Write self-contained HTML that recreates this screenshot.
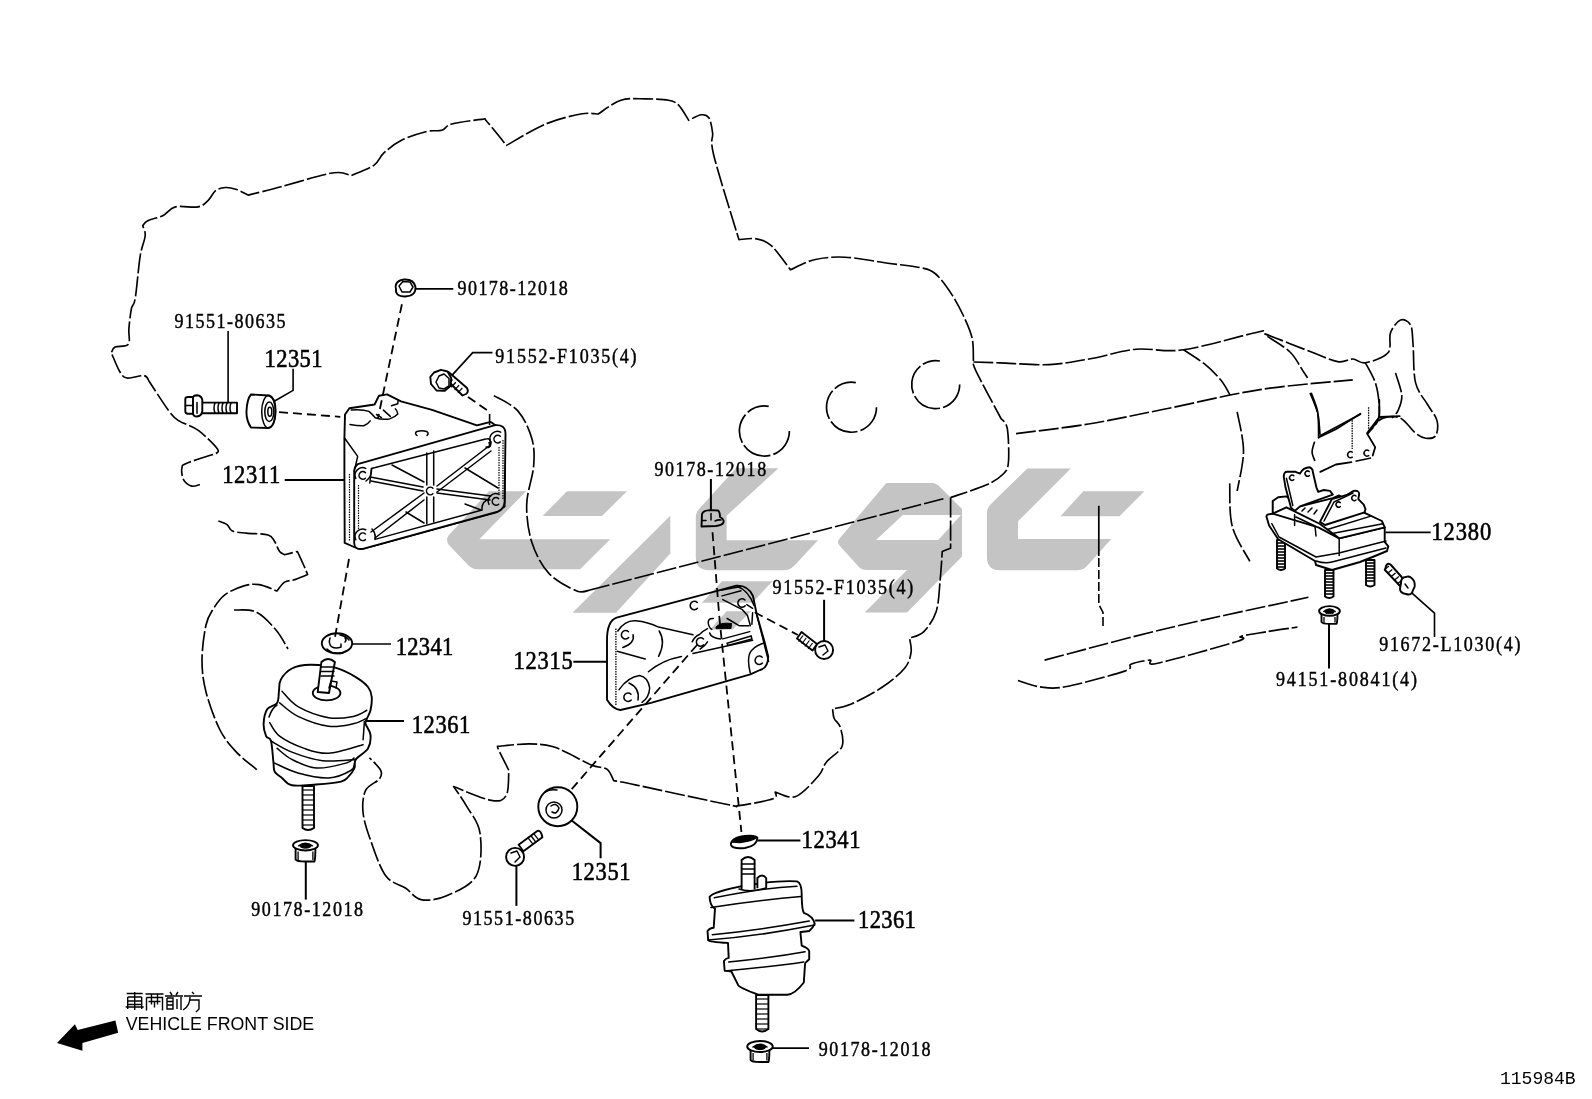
<!DOCTYPE html>
<html><head><meta charset="utf-8"><style>
html,body{margin:0;padding:0;background:#fff;width:1592px;height:1099px;overflow:hidden}
svg{display:block}
text{font-family:"Liberation Serif",serif;fill:#000}
.sans{font-family:"Liberation Sans",sans-serif}
</style></head><body>
<svg width="1592" height="1099" viewBox="0 0 1592 1099">
<rect width="1592" height="1099" fill="#fff"/>
<path d="M199.9 484.5 C198.5 484.8 194.4 486.9 191.7 486.1 C189 485.3 185.1 482.6 183.5 479.6 C181.9 476.6 181.3 470.8 181.9 468.1 C182.5 465.4 181.1 465.6 186.8 463.2 C192.5 460.8 211.4 455 216.3 453.4 L216.3 453.4 C216.4 452.6 220.1 452.2 217.1 448.4 C214.1 444.6 204.7 435 198.3 430.4 C191.9 425.8 183.5 423.9 178.6 420.6 C173.7 417.3 173.7 417.4 168.8 410.8 C163.9 404.2 152.4 386.2 149.1 381.3 L149.1 381.3 C148.3 380.4 147.9 376.2 144.2 375.6 C140.5 375.1 131.1 378.7 127 378 C122.9 377.3 122.3 375.7 119.7 371.5 C117.1 367.3 112.7 355.9 111.3 352.8 L111.3 352.8 C111.9 351.9 112.3 348.5 115.1 347.1 C117.9 345.7 126 347.4 128.3 344.3 C130.6 341.2 128.4 334.6 128.9 328.7 C129.4 322.8 130.4 313.6 131.4 308.6 C132.4 303.6 133.7 307.4 135.2 298.6 C136.7 289.8 138.5 266.4 140.2 255.9 C141.9 245.4 144.8 240.8 145.2 235.8 C145.6 230.8 143.1 227.4 142.7 225.7 L142.7 225.7 C143.5 224.9 144.3 222.4 147.7 220.7 C151 219 158.2 218 162.8 215.7 C167.4 213.4 169.5 208.4 175.4 206.9 C181.3 205.4 192.6 208 198 206.9 C203.4 205.8 205.1 203.3 208 200.6 C210.9 197.9 212.7 192.8 215.6 190.6 C218.5 188.4 222.2 187.7 225.6 187.5 C228.9 187.3 231.9 188 235.7 189.3 C239.5 190.6 246.1 194.1 248.2 195.1 L248.2 195.1 C253.6 193.7 268.8 190.1 280.9 186.8 C293 183.5 311.4 177.9 321 175.5 C330.6 173.1 333.6 172.5 338.7 172.5 C343.8 172.5 349.2 175 351.3 175.5 L351.3 175.5 C355.1 173.8 368.5 169.2 373.9 165.4 C379.3 161.6 379.3 157.1 383.9 152.9 C388.5 148.7 394.4 143.9 401.5 140.3 C408.6 136.7 419.9 133.2 426.6 131.5 C433.3 129.8 437.5 131.6 441.7 130.3 C445.9 129.1 445.1 125.8 451.8 124 C458.5 122.2 476 119.8 481.9 119.4 C487.8 119 482.8 117.2 486.9 121.5 C491 125.8 503.2 141.4 506.5 145.4 L506.5 145.4 C513 141.8 533.1 129.3 545.5 124.1 C557.9 118.9 571.9 115.7 580.7 114 C589.5 112.3 595.3 114 598.2 114 L598.2 114 C602 111.7 612.9 102.7 620.9 100.2 C628.9 97.7 638 98.9 646 98.9 C654 98.9 663.2 99.2 668.6 100.2 C674 101.2 675.2 101.9 678.6 105.2 C682 108.5 687 117.8 688.7 120.3 L688.7 120.3 C690.8 119.4 697.9 115.2 701.3 114.8 C704.6 114.4 706.9 114.8 708.8 117.8 C710.7 120.8 711.8 126.6 712.6 132.9 C713.4 139.2 709.4 137.7 713.8 155.5 C718.2 173.3 734.7 225.6 738.9 239.6 L738.9 239.6 C741.8 239.5 751 237.8 756.5 238.9 C762 240 766 240.8 771.6 245.9 C777.2 251.1 787.3 265.8 790.4 269.8 L790.4 269.8 C794.4 268.1 805.2 261.8 814.3 259.7 C823.4 257.6 832.9 256.6 845.2 257.2 C857.5 257.8 875.3 261.4 887.9 263.2 C900.5 264.9 912.6 265.9 920.6 267.7 C928.6 269.5 930.7 269.8 935.7 274 C940.7 278.2 946.2 286 950.8 292.9 C955.4 299.8 959.8 308 963.3 315.5 C966.8 323 970.4 330.6 972.1 338.1 C973.8 345.6 973.2 356.9 973.4 360.7 L973.4 360.7 C973.8 362.4 971.3 361.2 975.9 370.8 C980.5 380.4 996.8 410.6 1001 418.5 L1001 418.5 C1002 420.2 1006 421.4 1007.3 428.5 C1008.5 435.6 1009.1 453.6 1008.5 461.2 C1007.9 468.8 1007.3 469.8 1003.5 473.8 C999.7 477.8 994.7 481.2 985.9 485.1 C977.1 489.1 956.5 495.4 950.6 497.5" fill="none" stroke="#000" stroke-width="1.65" stroke-dasharray="20 3" stroke-linejoin="round"/>
<path d="M950.6 497.5 C950.6 506 950.6 539.8 950.6 548.3 L950.6 548.3 C949.2 548.8 943.7 550.9 942.3 551.4 L942.3 551.4 C941.9 556.1 941.2 569.4 940.2 579.4 C939.2 589.4 939 602.7 936.2 611.4 C933.4 620.1 928.1 627.3 923.6 631.8 C919.1 636.2 911.9 637 909.5 638.1 L909.5 638.1 C909.8 640.5 911.9 647.2 911.1 652.2 C910.3 657.2 909.5 662.2 904.8 668 C900.1 673.8 891.7 680.8 882.8 686.8 C873.9 692.8 859.8 700.3 851.4 704 C843 707.7 835.7 708 832.6 708.8 L832.6 708.8 C832.9 710.4 832.8 715.1 834.1 718.2 C835.4 721.3 839.1 722.9 840.4 727.6 C841.7 732.3 844.4 740.7 842 746.5 C839.6 752.3 830.2 757.3 826.3 762.2 C822.4 767.1 823.5 770.3 818.4 776 C813.3 781.7 802.9 793.8 795.7 796.5 C788.5 799.2 778.6 792.8 775.2 792 L775.2 792 C774.8 793.1 779 796.5 772.9 798.8 C766.8 801.1 746.4 804.6 738.8 805.6 C731.2 806.6 744.4 807.9 727.4 804.5 C710.4 801.1 655.5 789.1 636.5 785.1 C617.5 781.1 617.5 781.4 613.7 780.6 L613.7 780.6 C612.6 778.7 610.5 771.8 606.9 769.2 C603.2 766.6 598.2 767.9 591.8 765.2 C585.3 762.6 574.8 756.4 568.2 753.3 C561.6 750.2 558.8 748.1 552.3 746.5 C545.8 744.9 538 743.9 528.9 743.9 C519.8 743.9 502.7 746 497.5 746.4 L497.5 746.4 C497.7 747 496.9 746.2 498.8 750.2 C500.7 754.2 507.1 766.9 508.8 770.3 L508.8 770.3 C508.4 774.5 509.2 790.4 506.3 795.4 C503.4 800.4 500.1 801.9 491.3 800.4 C482.5 798.9 459.9 788.9 453.6 786.6 L453.6 786.6 C455.7 789.7 461.7 797.7 466.1 805.4 C470.5 813.1 478.3 821.3 480 833 C481.7 844.7 481.9 865.3 476.2 875.8 C470.5 886.3 455.2 891.9 446 895.9 C436.8 899.9 427.6 900.9 420.9 899.6 C414.2 898.3 411.7 892.3 405.8 888.3 C399.9 884.3 391.6 883.8 385.7 875.8 C379.8 867.8 374.5 851.1 370.7 840.6 C366.9 830.1 364 821.4 363.1 813 C362.2 804.6 362.9 796.1 365.6 790.4 C368.3 784.7 376.9 782.4 379.4 779 C381.9 775.6 382.4 773.8 380.7 770.3 C379 766.8 371.3 759.8 369.4 757.7" fill="none" stroke="#000" stroke-width="1.65" stroke-dasharray="20 3" stroke-linejoin="round"/>
<path d="M218.4 521 C219.9 521.6 225 523.1 227.3 524.8 C229.6 526.5 229.2 529.7 232.4 531.1 C235.6 532.5 240.4 532.5 246.4 533.1 C252.4 533.8 263.4 533.6 268.1 535 C272.8 536.4 272.6 538.5 274.5 541.3 C276.4 544 277.9 549.3 279.6 551.5 C281.3 553.7 283.8 554.2 284.6 554.7 L284.6 554.7 C286.7 554.2 295.3 552 297.4 551.5 L297.4 551.5 C298.5 553.8 302.1 561.7 303.8 565.5 C305.5 569.3 307 573 307.6 574.5 L307.6 574.5 C305.5 575.4 298.6 578.3 294.8 579.6 C291 580.9 287.6 580.2 284.6 582.1 C281.6 584 278.3 589.5 277 591 L277 591 C274 589.9 264.7 585.5 259.2 584.6 C253.7 583.8 249.6 584.2 243.9 585.9 C238.2 587.6 229.9 591 224.8 594.8 C219.7 598.6 216.4 603.9 213.3 608.9 C210.2 613.9 207.9 616.5 206 625 C204.1 633.5 202 648.8 202 660 C202 671.2 203 680.3 206 692 C209 703.7 214.9 720 220 730 C225.1 740 230.3 745.5 236.4 752.1 C242.5 758.7 253.4 766.7 256.8 769.6" fill="none" stroke="#000" stroke-width="1.65" stroke-dasharray="20 3" stroke-linejoin="round"/>
<path d="M234 610 C237.7 610.3 249 608.7 256 612 C263 615.3 270.7 623.8 276 630 C281.3 636.2 286 645.8 288 649" fill="none" stroke="#000" stroke-width="1.65" stroke-dasharray="20 3" stroke-linejoin="round"/>
<path d="M493.8 395.6 C497.8 398.2 511.6 403.9 518 411.1 C524.4 418.3 529.3 429.6 531.9 438.8 C534.5 448 534.5 455.5 533.6 466.4 C532.7 477.3 527 491.7 526.7 504.4 C526.4 517.1 528.2 531 531.9 542.5 C535.6 554 541.6 565.5 549.1 573.6 C556.6 581.7 570 588.2 576.8 590.9 C583.6 593.6 587.8 590.1 590 590" fill="none" stroke="#000" stroke-width="1.65" stroke-dasharray="20 3" stroke-linejoin="round"/>
<path d="M590 590 L944.4 498.5" fill="none" stroke="#000" stroke-width="1.65" stroke-dasharray="20 3" stroke-linejoin="round"/>
<path d="M789.4 431.0 A25 25 0 1 1 768.7 406.4" fill="none" stroke="#000" stroke-width="1.7" stroke-dasharray="30 3"/>
<path d="M876.5 407.2 A25 25 0 1 1 855.8 382.6" fill="none" stroke="#000" stroke-width="1.7" stroke-dasharray="30 3"/>
<path d="M959.7 384.6 A24 24 0 1 1 939.9 361.0" fill="none" stroke="#000" stroke-width="1.7" stroke-dasharray="30 3"/>
<path d="M973.4 362 C977.8 362.1 987.4 362.5 1000 362.9 C1012.6 363.3 1033.8 365.3 1049.1 364.6 C1064.4 363.9 1077.2 361.1 1091.7 358.5 C1106.2 355.9 1120.7 350.6 1136 349.2 C1151.3 347.8 1163.3 352.6 1183.5 349.8 C1203.7 347 1243.7 334.9 1257.3 332.2 C1270.9 329.5 1256.1 330.7 1264.9 333.9 C1273.7 337.1 1298 346.9 1310.1 351.5 C1322.2 356.1 1330.6 360.4 1337.7 361.6 C1344.8 362.9 1348.2 358.8 1352.8 359 C1357.4 359.2 1359.5 363.8 1365.4 362.8 C1371.3 361.8 1383.8 357.8 1388 352.8 C1392.2 347.8 1388.4 338.1 1390.5 332.7 C1392.6 327.2 1397.2 321.4 1400.5 320.1 C1403.8 318.8 1408.5 320.9 1410.6 325.1 C1412.7 329.3 1412.3 335.6 1413.1 345.2 C1413.9 354.8 1413.1 372.8 1415.6 382.9 C1418.1 392.9 1424.6 399.2 1428.2 405.5 C1431.8 411.8 1435.8 415.6 1437 420.6 C1438.2 425.6 1437.6 432.8 1435.7 435.7 C1433.8 438.6 1429.1 438.6 1425.7 438.2 C1422.3 437.8 1419.8 436.5 1415.6 433.2 C1411.4 429.9 1405.9 420.6 1400.5 418.1 C1395.1 415.6 1387.8 416.5 1383 418.1 C1378.2 419.8 1374.5 425.5 1372 428 C1369.5 430.5 1368.6 432.3 1367.9 433.2" fill="none" stroke="#000" stroke-width="1.65" stroke-dasharray="20 3" stroke-linejoin="round"/>
<path d="M1183.5 349.8 C1187 352.2 1198.5 359.1 1204.8 364.2 C1211.1 369.3 1217 375.4 1221.2 380.6 C1225.4 385.8 1228.7 392.9 1230.2 395.4" fill="none" stroke="#000" stroke-width="1.65" stroke-dasharray="20 3" stroke-linejoin="round"/>
<path d="M1267.4 336.4 C1271.2 339 1284.1 346.3 1290 352 C1295.9 357.7 1299.7 366.1 1302.6 370.4 C1305.5 374.7 1306.8 376.6 1307.6 377.9" fill="none" stroke="#000" stroke-width="1.65" stroke-dasharray="20 3" stroke-linejoin="round"/>
<path d="M1016 433.6 C1028.1 432 1063.9 428.1 1088.5 424 C1113.1 419.9 1135.2 415 1163.8 409.3 C1192.4 403.6 1228.5 394.5 1260 389.6 C1291.5 384.7 1337.3 381.5 1352.8 379.9" fill="none" stroke="#000" stroke-width="1.65" stroke-dasharray="20 3" stroke-linejoin="round"/>
<path d="M1365.4 362.8 C1367.1 366.1 1373.1 375.8 1375.4 382.9 C1377.7 390 1378.8 399.2 1379.2 405.5 C1379.6 411.8 1379.9 416 1378 420.6 C1376.1 425.2 1369.6 431.1 1367.9 433.2" fill="none" stroke="#000" stroke-width="1.65" stroke-dasharray="20 3" stroke-linejoin="round"/>
<path d="M1395.5 372.9 C1396.5 376.7 1401.4 389.2 1401.8 395.5 C1402.2 401.8 1399.6 406.9 1398 410.6 C1396.4 414.4 1393 416.8 1392 418" fill="none" stroke="#000" stroke-width="1.65" stroke-dasharray="20 3" stroke-linejoin="round"/>
<path d="M1237.2 411.8 C1238.2 418.3 1243.5 437.8 1243.5 451 C1243.5 464.2 1238.2 484.3 1237.2 491" fill="none" stroke="#000" stroke-width="1.65" stroke-dasharray="20 3" stroke-linejoin="round"/>
<path d="M1229.7 483.4 C1230.1 490.5 1228.9 513.1 1232.2 526.1 C1235.5 539.1 1246.9 555.4 1249.8 561.3" fill="none" stroke="#000" stroke-width="1.65" stroke-dasharray="20 3" stroke-linejoin="round"/>
<path d="M1310.1 393 C1311.3 396.4 1315.9 406 1317.6 413.1 C1319.3 420.2 1319.7 431.9 1320.1 435.7" fill="none" stroke="#000" stroke-width="1.65" stroke-dasharray="20 3" stroke-linejoin="round"/>
<path d="M1320.1 435.7 L1360.3 414.3" fill="none" stroke="#000" stroke-width="1.8" stroke-linejoin="round" stroke-linecap="round"/>
<path d="M1044.6 660.1 C1064.8 654.9 1121.5 639.2 1165.5 628.7 C1209.5 618.2 1284.6 602.5 1308.4 597.3" fill="none" stroke="#000" stroke-width="1.65" stroke-dasharray="20 3" stroke-linejoin="round"/>
<path d="M1017.9 680.5 C1021.5 681.5 1032 685.8 1039.8 686.8 C1047.6 687.8 1050.8 689.4 1065 686.8 C1079.2 684.2 1113.7 674.9 1124.7 671.1 C1135.7 667.3 1126.8 666 1131 664.2 C1135.2 662.4 1145.4 660.3 1149.8 660.1 C1154.2 659.9 1142.9 666.4 1157.6 663.2 C1172.2 660.1 1223.8 645.7 1237.7 641.2 C1251.6 636.8 1236.2 638.1 1240.9 636.5 C1245.6 634.9 1256.6 633.4 1266 631.8 C1275.4 630.2 1292.2 627.9 1297.4 627.1" fill="none" stroke="#000" stroke-width="1.65" stroke-dasharray="20 3" stroke-linejoin="round"/>
<path d="M1098.8 505.8 L1098.8 556" fill="none" stroke="#000" stroke-width="1.7"/>
<path d="M1098.8 558 L1098.8 604.3 L1103 612.5 L1103 627.1" fill="none" stroke="#000" stroke-width="1.6" stroke-dasharray="9 3"/>
<text transform="translate(457.6 295.1) scale(0.88 1)" x="0" y="0" font-size="20.5" textLength="125.3" lengthAdjust="spacing" stroke="#000" stroke-width="0.45">90178-12018</text>
<text transform="translate(174.4 327.9) scale(0.88 1)" x="0" y="0" font-size="20.5" textLength="126.4" lengthAdjust="spacing" stroke="#000" stroke-width="0.45">91551-80635</text>
<text transform="translate(495.3 363) scale(0.88 1)" x="0" y="0" font-size="20.5" textLength="160.6" lengthAdjust="spacing" stroke="#000" stroke-width="0.45">91552-F1035(4)</text>
<text transform="translate(654.5 476.1) scale(0.88 1)" x="0" y="0" font-size="20.5" textLength="126.9" lengthAdjust="spacing" stroke="#000" stroke-width="0.45">90178-12018</text>
<text transform="translate(772.4 594) scale(0.88 1)" x="0" y="0" font-size="20.5" textLength="160.1" lengthAdjust="spacing" stroke="#000" stroke-width="0.45">91552-F1035(4)</text>
<text transform="translate(1379.2 651) scale(0.88 1)" x="0" y="0" font-size="20.5" textLength="160.5" lengthAdjust="spacing" stroke="#000" stroke-width="0.45">91672-L1030(4)</text>
<text transform="translate(1276 686) scale(0.88 1)" x="0" y="0" font-size="20.5" textLength="160.2" lengthAdjust="spacing" stroke="#000" stroke-width="0.45">94151-80841(4)</text>
<text transform="translate(251.3 916) scale(0.88 1)" x="0" y="0" font-size="20.5" textLength="127" lengthAdjust="spacing" stroke="#000" stroke-width="0.45">90178-12018</text>
<text transform="translate(462.4 924.8) scale(0.88 1)" x="0" y="0" font-size="20.5" textLength="127" lengthAdjust="spacing" stroke="#000" stroke-width="0.45">91551-80635</text>
<text transform="translate(818.8 1055.5) scale(0.88 1)" x="0" y="0" font-size="20.5" textLength="127" lengthAdjust="spacing" stroke="#000" stroke-width="0.45">90178-12018</text>
<text transform="translate(264.6 366.9) scale(0.9 1)" x="0" y="0" font-size="25" textLength="64.4" lengthAdjust="spacing" stroke="#000" stroke-width="0.6">12351</text>
<text transform="translate(222.2 482.8) scale(0.9 1)" x="0" y="0" font-size="25" textLength="64.4" lengthAdjust="spacing" stroke="#000" stroke-width="0.6">12311</text>
<text transform="translate(395.8 655) scale(0.9 1)" x="0" y="0" font-size="25" textLength="63.8" lengthAdjust="spacing" stroke="#000" stroke-width="0.6">12341</text>
<text transform="translate(411.8 733) scale(0.9 1)" x="0" y="0" font-size="25" textLength="64.9" lengthAdjust="spacing" stroke="#000" stroke-width="0.6">12361</text>
<text transform="translate(513.4 669) scale(0.9 1)" x="0" y="0" font-size="25" textLength="66" lengthAdjust="spacing" stroke="#000" stroke-width="0.6">12315</text>
<text transform="translate(1431.5 540) scale(0.9 1)" x="0" y="0" font-size="25" textLength="66.3" lengthAdjust="spacing" stroke="#000" stroke-width="0.6">12380</text>
<text transform="translate(571.7 879.5) scale(0.9 1)" x="0" y="0" font-size="25" textLength="65.4" lengthAdjust="spacing" stroke="#000" stroke-width="0.6">12351</text>
<text transform="translate(801.6 847.9) scale(0.9 1)" x="0" y="0" font-size="25" textLength="65.4" lengthAdjust="spacing" stroke="#000" stroke-width="0.6">12341</text>
<text transform="translate(858.1 927.7) scale(0.9 1)" x="0" y="0" font-size="25" textLength="64.1" lengthAdjust="spacing" stroke="#000" stroke-width="0.6">12361</text>
<text class="sans" x="125.7" y="1030" font-size="18" textLength="188.5" lengthAdjust="spacingAndGlyphs">VEHICLE FRONT SIDE</text>
<text x="1500" y="1084" font-size="19" textLength="75.7" lengthAdjust="spacingAndGlyphs" font-family="Liberation Mono" style="font-family:'Liberation Mono'">115984B</text>
<path d="M57 1043.1 L74.9 1024.3 L77.7 1030 L115.4 1020.5 L118.2 1032.8 L82.4 1043.1 L82.4 1050.7 Z" fill="#000"/>
<path d="M415.5 288.9 L453.3 288.9" fill="none" stroke="#000" stroke-width="1.6"/>
<path d="M451 376.4 L472.7 352.6 L492.5 352.6" fill="none" stroke="#000" stroke-width="1.6"/>
<path d="M228.1 331 L228.1 403.6" fill="none" stroke="#000" stroke-width="1.6"/>
<path d="M293.1 368.8 L293.1 390.4 L274.7 401" fill="none" stroke="#000" stroke-width="1.6"/>
<path d="M284.7 480 L344 480" fill="none" stroke="#000" stroke-width="2"/>
<path d="M710.9 479 L710.9 511" fill="none" stroke="#000" stroke-width="2"/>
<path d="M352 644 L391 644" fill="none" stroke="#000" stroke-width="1.6"/>
<path d="M365 721 L404 721" fill="none" stroke="#000" stroke-width="2"/>
<path d="M573.3 661.7 L607.9 661.7" fill="none" stroke="#000" stroke-width="2"/>
<path d="M824.1 599.8 L824.1 641.9" fill="none" stroke="#000" stroke-width="2"/>
<path d="M1385.5 532.4 L1430.7 532.4" fill="none" stroke="#000" stroke-width="1.6"/>
<path d="M1410.6 591.8 L1434.5 613.2 L1434.5 637" fill="none" stroke="#000" stroke-width="1.6"/>
<path d="M1329 615.7 L1329 668.4" fill="none" stroke="#000" stroke-width="2"/>
<path d="M305.8 860.7 L305.8 899.6" fill="none" stroke="#000" stroke-width="2"/>
<path d="M516.4 865.7 L516.4 905.9" fill="none" stroke="#000" stroke-width="2"/>
<path d="M571.7 820.5 L600.6 843.1 L600.6 858.2" fill="none" stroke="#000" stroke-width="2"/>
<path d="M757.4 840.5 L800.4 840.5" fill="none" stroke="#000" stroke-width="2"/>
<path d="M815.1 920.4 L854.4 920.4" fill="none" stroke="#000" stroke-width="2"/>
<path d="M772.1 1048.1 L809 1048.1" fill="none" stroke="#000" stroke-width="1.6"/>
<path d="M396 289 Q394 281 404 279.5 Q414 279 415.5 287 Q416 296 405 296.5 Q395 296.5 396 289Z" fill="#fff" stroke="#000" stroke-width="1.9" stroke-linejoin="round"/>
<path d="M399 286 L403 281.5 L410 282 L413 287 L410 292 L402 292Z" fill="none" stroke="#000" stroke-width="1.5" stroke-linejoin="round" stroke-linecap="round"/>
<path d="M444 377 L448.5 372 L467 388 Q469 392 466 394 L462.5 395.5 Z" fill="#fff" stroke="#000" stroke-width="1.9" stroke-linejoin="round"/>
<path d="M452.5 379.5 l-4.5 5" fill="none" stroke="#000" stroke-width="1.3"/>
<path d="M455.8 382.3 l-4.5 5" fill="none" stroke="#000" stroke-width="1.3"/>
<path d="M459.1 385.1 l-4.5 5" fill="none" stroke="#000" stroke-width="1.3"/>
<path d="M462.4 387.9 l-4.5 5" fill="none" stroke="#000" stroke-width="1.3"/>
<path d="M434 372.5 L441 369.8 L447.5 371.5 L451.2 378 L450.5 386 L444.5 390.9 L436.5 390.5 L431 384 L430.3 377Z" fill="#fff" stroke="#000" stroke-width="1.9" stroke-linejoin="round"/>
<path d="M439 376 L444 374 L449 378.5 L449 386 L444 389 L439 388 L436 382Z" fill="none" stroke="#000" stroke-width="1.5" stroke-linejoin="round" stroke-linecap="round"/>
<path d="M196 402.6 L237 402.6 L237 413.2 L196 413.2Z" fill="#fff" stroke="#000" stroke-width="1.9" stroke-linejoin="round"/>
<path d="M185.3 399 Q185.3 397 188 397 L193.5 397 L193.5 413.8 L188 413.8 Q185.3 413.8 185.3 411Z" fill="#fff" stroke="#000" stroke-width="1.9" stroke-linejoin="round"/>
<path d="M193 398 Q193 395.2 197 395.2 Q201.5 395.5 202.3 400 L202.3 411 Q201.5 416.3 197 416.5 Q193 416.5 193 413Z" fill="#fff" stroke="#000" stroke-width="1.9" stroke-linejoin="round"/>
<path d="M185.5 405.5 L193 405.5 M197 402.6 L197 413.2" fill="none" stroke="#000" stroke-width="1.5" stroke-linejoin="round" stroke-linecap="round"/>
<path d="M215 403 Q213 408 215 413" fill="none" stroke="#000" stroke-width="1.5" stroke-linejoin="round" stroke-linecap="round"/>
<path d="M219 403 Q217 408 219 413" fill="none" stroke="#000" stroke-width="1.5" stroke-linejoin="round" stroke-linecap="round"/>
<path d="M223 403 Q221 408 223 413" fill="none" stroke="#000" stroke-width="1.5" stroke-linejoin="round" stroke-linecap="round"/>
<path d="M227 403 Q225 408 227 413" fill="none" stroke="#000" stroke-width="1.5" stroke-linejoin="round" stroke-linecap="round"/>
<path d="M231 403 Q229 408 231 413" fill="none" stroke="#000" stroke-width="1.5" stroke-linejoin="round" stroke-linecap="round"/>
<path d="M251 394.5 L269 395.5 Q276 398 275.5 411.8 Q275 427 268 428 L251 427.5 Q246 420 246.5 411 Q247 399 251 394.5Z" fill="#fff" stroke="#000" stroke-width="1.9" stroke-linejoin="round"/>
<ellipse cx="268.6" cy="411.8" rx="6.9" ry="16.3" fill="none" stroke="#000" stroke-width="1.5" stroke-linejoin="round" stroke-linecap="round"/>
<ellipse cx="269.3" cy="411.8" rx="4.5" ry="9.8" fill="none" stroke="#000" stroke-width="1.5" stroke-linejoin="round" stroke-linecap="round"/>
<ellipse cx="269.8" cy="411.8" rx="2" ry="4.5" fill="none" stroke="#000" stroke-width="1.5" stroke-linejoin="round" stroke-linecap="round"/>
<path d="M349.4 408.2 L374.6 404.5 L379 395.7 L387.1 394.4 L401 401.3 L432 409.8 L476.9 425.3 L490.8 421.9 L505 432 L504.6 506.6 L497 512 L362.8 548.9 L354 547 L344.7 542.9 L344.4 473.7 L344.4 438.4 L345 414.5Z" fill="#fff" stroke="#000" stroke-width="1.9" stroke-linejoin="round"/>
<path d="M351.3 410.1 Q362 409 368.9 411.4 Q372 414 375.2 417.7 Q382 420 389.6 418.9 Q395 417 397.8 413.9 Q397 410 395.3 408.9" fill="none" stroke="#000" stroke-width="1.5" stroke-linejoin="round" stroke-linecap="round"/>
<path d="M391.5 405.7 Q396 404.5 397.8 403.8 L398 401 M383.4 410.1 L390.3 416.4 M376.5 414.5 L381.5 417.7" fill="none" stroke="#000" stroke-width="1.5" stroke-linejoin="round" stroke-linecap="round"/>
<path d="M350 424.6 Q358 426 363.9 425.8 Q368 424 370.2 420.8 M344.5 438 L357.7 456.4 L355 468" fill="none" stroke="#000" stroke-width="1.5" stroke-linejoin="round" stroke-linecap="round"/>
<path d="M417 435.5 Q414 433 417 431.5 Q421.7 430 426.5 431.5 Q429.5 433 427 435.5" fill="none" stroke="#000" stroke-width="1.5" stroke-linejoin="round" stroke-linecap="round"/>
<path d="M357.7 464.2 L494.2 425.3 Q505.5 424 505.5 434 L504.6 502 Q504 509 497.7 511.7 L362.8 548.9 Q354.2 550 354.2 542.9 L354.2 470.3 Q355 466 357.7 464.2Z" fill="#fff" stroke="#000" stroke-width="1.9" stroke-linejoin="round"/>
<path d="M349.5 474 L349.5 541 M358.5 485 L358.5 530" fill="none" stroke="#000" stroke-width="1.2" stroke-dasharray="1.5 1"/>
<path d="M499 447 L499 495 M503 440 L503 500" fill="none" stroke="#000" stroke-width="1.2" stroke-dasharray="1.5 1"/>
<path d="M371.5 468.5 L485.6 439.1 Q492 437 490 446 L489 442.6 M369.8 483 L371.5 468.5" fill="none" stroke="#000" stroke-width="1.5" stroke-linejoin="round" stroke-linecap="round"/>
<path d="M366 481 Q372 477 371.5 468.5 M375 539.4 L482.1 510 M372 529 Q376 533 375 539.4 M482.1 510 Q481 502 489 499 M486 447 Q491 449 491 442" fill="none" stroke="#000" stroke-width="1.5" stroke-linejoin="round" stroke-linecap="round"/>
<path d="M426.8 453 L426.8 485 M426.8 497 L426.8 523.8 M433.7 451 L433.7 485 M433.7 497 L433.7 522" fill="none" stroke="#000" stroke-width="1.5" stroke-linejoin="round" stroke-linecap="round"/>
<path d="M371 532 L424 493 M437 486 L489 446 M375 538 L424 500 M437 492 L491 451" fill="none" stroke="#000" stroke-width="1.5" stroke-linejoin="round" stroke-linecap="round"/>
<path d="M371.5 477.2 L423 487 M437 489 L490.8 496 M371 481 L423 491 M437 493 L490 500" fill="none" stroke="#000" stroke-width="1.5" stroke-linejoin="round" stroke-linecap="round"/>
<path d="M392 465 L424 482 M465 468 L498 488 M406 512 L424 523 M465 504 L481 510" fill="none" stroke="#000" stroke-width="1.5" stroke-linejoin="round" stroke-linecap="round"/>
<path d="M365.4 472.6 A3.8 3.8 0 1 0 365.4 478.2" fill="none" stroke="#000" stroke-width="1.5" stroke-linejoin="round" stroke-linecap="round"/>
<path d="M500.3 436.3 A3.8 3.8 0 1 0 500.3 441.9" fill="none" stroke="#000" stroke-width="1.5" stroke-linejoin="round" stroke-linecap="round"/>
<path d="M498.6 498.6 A3.8 3.8 0 1 0 498.6 504.2" fill="none" stroke="#000" stroke-width="1.5" stroke-linejoin="round" stroke-linecap="round"/>
<path d="M365.4 534.0 A3.8 3.8 0 1 0 365.4 539.6" fill="none" stroke="#000" stroke-width="1.5" stroke-linejoin="round" stroke-linecap="round"/>
<path d="M432.9 488.2 A3.8 3.8 0 1 0 432.9 493.8" fill="none" stroke="#000" stroke-width="1.5" stroke-linejoin="round" stroke-linecap="round"/>
<path d="M355.8 478.4 A7.5 7.5 0 0 1 365.8 468.4" fill="none" stroke="#000" stroke-width="1.5" stroke-linejoin="round" stroke-linecap="round"/>
<path d="M490.7 442.1 A7.5 7.5 0 0 1 500.7 432.1" fill="none" stroke="#000" stroke-width="1.5" stroke-linejoin="round" stroke-linecap="round"/>
<path d="M489.0 504.4 A7.5 7.5 0 0 1 499.0 494.4" fill="none" stroke="#000" stroke-width="1.5" stroke-linejoin="round" stroke-linecap="round"/>
<path d="M355.8 539.8 A7.5 7.5 0 0 1 365.8 529.8" fill="none" stroke="#000" stroke-width="1.5" stroke-linejoin="round" stroke-linecap="round"/>
<ellipse cx="337" cy="643.3" rx="15.2" ry="10" fill="#fff" stroke="#000" stroke-width="1.9" stroke-linejoin="round"/>
<path d="M330 638 Q328 644 332 647 Q336 649 341 647 L341 644 M340 635 Q346 636 349 640 M345 638 Q347 640 345 642 M327 649 Q333 655 343 653" fill="none" stroke="#000" stroke-width="1.5" stroke-linejoin="round" stroke-linecap="round"/>
<path d="M607 640 Q607 621 616.6 617.6 L717.2 590.8 L736.3 585.7 Q748 585 753 596 L756.7 614.4 L764.3 641.1 L768.2 656.4 Q768 668 760 670 L750.3 674.3 L651 702.9 L620.4 710 Q612.7 709 607 699.7Z" fill="#fff" stroke="#000" stroke-width="1.9" stroke-linejoin="round"/>
<path d="M615.9 628.4 L615.9 706.1" fill="none" stroke="#000" stroke-width="1.3" stroke-dasharray="1.5 1"/>
<path d="M617.8 631 Q625 620 635.7 620.8 Q648 622 658.6 627.1 L693 634.8" fill="none" stroke="#000" stroke-width="1.5" stroke-linejoin="round" stroke-linecap="round"/>
<path d="M617.2 651.3 L645.2 659 M659.2 631 Q666 642 658.6 656.4 M622.9 647.5 Q635 643 633.1 634.8" fill="none" stroke="#000" stroke-width="1.5" stroke-linejoin="round" stroke-linecap="round"/>
<path d="M619.1 689.6 Q628 677 639.5 675.5 Q648 677 649.7 688 Q649 698 642 702.3 M629 683 Q640 688 638 700" fill="none" stroke="#000" stroke-width="1.5" stroke-linejoin="round" stroke-linecap="round"/>
<path d="M648.4 671.7 Q662 660 681.5 656.4" fill="none" stroke="#000" stroke-width="1.5" stroke-linejoin="round" stroke-linecap="round"/>
<path d="M722 590.1 L741 586.5 M722 595.9 L741 590.8 M737.3 586.5 Q748.2 590 754 605.4" fill="none" stroke="#000" stroke-width="1.5" stroke-linejoin="round" stroke-linecap="round"/>
<path d="M722.8 599.6 L742.4 609.7 L747.5 615.6 L750.4 625.8 M746.8 604.7 L752.6 608.3 M752.6 612.7 L751.9 624.3" fill="none" stroke="#000" stroke-width="1.5" stroke-linejoin="round" stroke-linecap="round"/>
<path d="M757 615.6 L768.6 661.4" fill="none" stroke="#000" stroke-width="1.5" stroke-linejoin="round" stroke-linecap="round"/>
<path d="M750.3 673 Q746 656 752 650 Q757 645 764 643" fill="none" stroke="#000" stroke-width="1.5" stroke-linejoin="round" stroke-linecap="round"/>
<path d="M713.3 618.5 Q708 618 708.2 623 Q709 628 711.8 629.4" fill="none" stroke="#000" stroke-width="1.5" stroke-linejoin="round" stroke-linecap="round"/>
<path d="M716 627 Q720 622 731.5 623.5 L731 628.5 L716 628.7Z" fill="#000" stroke="#000" stroke-width="1"/>
<path d="M727.1 618.5 L739.5 625.8 L749 625.8 M709.7 633 Q711 638 720.6 638.9 M722.8 638.9 L749.7 631.6" fill="none" stroke="#000" stroke-width="1.5" stroke-linejoin="round" stroke-linecap="round"/>
<path d="M727.1 643.2 L751.1 636 L751.9 638.9 L727.8 645.4Z" fill="none" stroke="#000" stroke-width="1.5"/>
<path d="M692.9 653.4 L752.6 640.3 M692.2 641.8 Q695 636 699.5 634.5 Q703 631 707.5 628.7 M707.5 641.8 Q705 646 700.2 649" fill="none" stroke="#000" stroke-width="1.5" stroke-linejoin="round" stroke-linecap="round"/>
<path d="M628.5 631.8 A4.2 4.2 0 1 0 628.7 637.6" fill="none" stroke="#000" stroke-width="1.5" stroke-linejoin="round" stroke-linecap="round"/>
<path d="M631.0 694.2 A4.2 4.2 0 1 0 631.2 700.0" fill="none" stroke="#000" stroke-width="1.5" stroke-linejoin="round" stroke-linecap="round"/>
<path d="M703.5 639.0 A4.2 4.2 0 1 0 703.7 644.8" fill="none" stroke="#000" stroke-width="1.5" stroke-linejoin="round" stroke-linecap="round"/>
<path d="M762.2 657.3 A4.2 4.2 0 1 0 762.4 663.1" fill="none" stroke="#000" stroke-width="1.5" stroke-linejoin="round" stroke-linecap="round"/>
<path d="M745.0 600.0 A4.2 4.2 0 1 0 745.2 605.8" fill="none" stroke="#000" stroke-width="1.5" stroke-linejoin="round" stroke-linecap="round"/>
<path d="M697.3 602.5 A4.2 4.2 0 1 0 697.5 608.3" fill="none" stroke="#000" stroke-width="1.5" stroke-linejoin="round" stroke-linecap="round"/>
<path d="M280.8 679.6 C282.9 675.9 287 671 291.9 668.5 C296.8 666 302.9 664.9 310.3 664.8 C317.7 664.7 328.5 665.8 336.1 667.9 C343.7 670 350.5 673.9 355.8 677.1 C361.1 680.3 365.4 683.7 368 687 C370.6 690.3 371.3 692.9 371.7 696.8 C372.1 700.7 371.3 706.6 370.5 710.3 C369.7 714 367.6 716.6 366.8 718.9 C366 721.1 365 721.1 365.6 723.8 C366.2 726.5 370.1 730.8 370.5 734.9 C370.9 739 370.4 744.3 368 748.4 C365.6 752.5 358.1 756.1 355.8 759.4 C353.6 762.7 355.7 765.1 354.5 768 C353.3 770.9 350.6 774.4 348.4 776.7 C346.1 779 346.4 780.3 341 781.6 C335.6 782.9 324.2 783.9 316 784.5 C307.8 785.1 297.6 786.4 291.9 785.3 C286.2 784.2 284.9 780.2 282 777.9 C279.1 775.6 276.1 774.4 274.7 771.7 C273.3 769 274 767 273.4 761.9 C272.8 756.8 272.2 745.3 271 741 C269.8 736.7 267.3 739 266.1 736.1 C264.9 733.2 263.4 728.3 263.6 723.8 C263.8 719.3 265.1 712.6 267.3 709.1 C269.6 705.6 275.2 706 277.1 702.9 C279.1 699.8 278.4 694.5 279 690.6 C279.6 686.7 278.7 683.3 280.8 679.6Z" fill="#fff" stroke="#000" stroke-width="1.9" stroke-linejoin="round"/>
<path d="M282 691.2 C284.7 693.8 290.2 702.2 298 706.6 C305.8 711 319.5 716.1 328.7 717.7 C337.9 719.3 346.9 717.6 353.3 716.4 C359.7 715.2 364.6 711.3 366.8 710.3" fill="none" stroke="#000" stroke-width="1.5" stroke-linejoin="round" stroke-linecap="round"/>
<path d="M279.6 702.9 C282.7 705.1 289.8 712.5 298 716.4 C306.2 720.3 319.5 725.1 328.7 726.3 C337.9 727.5 347.1 725 353.3 723.8 C359.5 722.6 363.6 719.7 365.6 718.9" fill="none" stroke="#000" stroke-width="1.5" stroke-linejoin="round" stroke-linecap="round"/>
<path d="M269.7 722.6 C271.4 724.9 273.9 731.8 279.6 736.1 C285.4 740.4 296 745.5 304.2 748.4 C312.4 751.3 318.9 753.9 328.7 753.3 C338.5 752.7 357.4 746.1 363.1 744.7" fill="none" stroke="#000" stroke-width="1.5" stroke-linejoin="round" stroke-linecap="round"/>
<path d="M271 741 C274.5 742.9 283.3 748.8 291.9 752.1 C300.5 755.4 312 759.5 322.6 760.7 C333.2 761.9 350.3 759.6 355.8 759.4" fill="none" stroke="#000" stroke-width="1.5" stroke-linejoin="round" stroke-linecap="round"/>
<path d="M277.1 748.4 C279.6 750.2 285.3 756.1 291.9 759.4 C298.4 762.7 307.4 767.4 316.4 768 C325.4 768.6 339.6 764.8 345.9 763.1 C352.2 761.4 352.6 758.9 354 758" fill="none" stroke="#000" stroke-width="1.5" stroke-linejoin="round" stroke-linecap="round"/>
<path d="M274.7 763.1 C278.6 764.8 289 770.5 298 773 C307 775.5 319.9 778.3 328.7 777.9 C337.5 777.5 346.5 773 350.8 770.5 C355.1 768 353.9 764.3 354.5 763.1" fill="none" stroke="#000" stroke-width="1.5" stroke-linejoin="round" stroke-linecap="round"/>
<path d="M364.4 721.4 L363.1 739.8 M269 717 Q272 708 277 705" fill="none" stroke="#000" stroke-width="1.5" stroke-linejoin="round" stroke-linecap="round"/>
<ellipse cx="326.6" cy="693" rx="13.8" ry="7.4" fill="#fff" stroke="#000" stroke-width="1.9" stroke-linejoin="round"/>
<path d="M317.7 692 L321.4 662 Q328 656 334.9 662 L329 693Z" fill="#fff" stroke="#000" stroke-width="1.9" stroke-linejoin="round"/>
<path d="M321 667 L334 667" fill="none" stroke="#000" stroke-width="1.5" stroke-linejoin="round" stroke-linecap="round"/>
<path d="M321 671.5 L334 671.5" fill="none" stroke="#000" stroke-width="1.5" stroke-linejoin="round" stroke-linecap="round"/>
<path d="M321 676 L334 676" fill="none" stroke="#000" stroke-width="1.5" stroke-linejoin="round" stroke-linecap="round"/>
<path d="M329 688 L331 681 L337 682 L336 688" fill="none" stroke="#000" stroke-width="1.5" stroke-linejoin="round" stroke-linecap="round"/>
<path d="M302.5 786 L314 786 L314 828 Q308 832 302.5 828Z" fill="#fff" stroke="#000" stroke-width="1.9" stroke-linejoin="round"/>
<path d="M302.5 790 L314 790" fill="none" stroke="#000" stroke-width="1.2"/>
<path d="M302.5 795 L314 795" fill="none" stroke="#000" stroke-width="1.2"/>
<path d="M302.5 800 L314 800" fill="none" stroke="#000" stroke-width="1.2"/>
<path d="M302.5 805 L314 805" fill="none" stroke="#000" stroke-width="1.2"/>
<path d="M302.5 810 L314 810" fill="none" stroke="#000" stroke-width="1.2"/>
<path d="M302.5 815 L314 815" fill="none" stroke="#000" stroke-width="1.2"/>
<path d="M302.5 820 L314 820" fill="none" stroke="#000" stroke-width="1.2"/>
<path d="M302.5 825 L314 825" fill="none" stroke="#000" stroke-width="1.2"/>
<path d="M709.6 897 Q712 892 745 885.5 Q780 880 797 881.4 Q802 883 801.7 896.4 Q802 910 803.8 912.8 Q813 916 814.7 923.7 Q813 928 809.2 931 Q801 932 800.4 932 L801.7 945.6 Q808 948 809.2 951 L809.2 959.2 Q805 963 805.1 963.3 L803.8 982.5 Q795 994 787.4 994.8 L758.7 994.8 Q740 988 738.2 985.2 L731.4 971.5 Q725 971 724.6 970.2 L723.9 961 Q726 958 728.7 957.9 L728 942.9 Q709 942 708.2 940.1 L707.5 931 Q710 928 713.7 927.8 L715 908.7 Q710 906 709.6 897Z" fill="#fff" stroke="#000" stroke-width="1.9" stroke-linejoin="round"/>
<path d="M714.3 897.8 Q760 888 797 886.2" fill="none" stroke="#000" stroke-width="1.5" stroke-linejoin="round" stroke-linecap="round"/>
<path d="M710.9 907.4 Q760 900 801 896.4" fill="none" stroke="#000" stroke-width="1.5" stroke-linejoin="round" stroke-linecap="round"/>
<path d="M712.3 934.7 Q760 930 809.2 921" fill="none" stroke="#000" stroke-width="1.5" stroke-linejoin="round" stroke-linecap="round"/>
<path d="M708.2 940.1 Q760 936 814.7 925.1" fill="none" stroke="#000" stroke-width="1.5" stroke-linejoin="round" stroke-linecap="round"/>
<path d="M728.7 962 Q770 958 805.1 951.7" fill="none" stroke="#000" stroke-width="1.5" stroke-linejoin="round" stroke-linecap="round"/>
<path d="M724.6 970.9 Q770 967 803.8 962" fill="none" stroke="#000" stroke-width="1.5" stroke-linejoin="round" stroke-linecap="round"/>
<path d="M741.6 889.6 L741.6 860 Q748 854 754.6 860 L754.6 889.6" fill="#fff" stroke="#000" stroke-width="1.9" stroke-linejoin="round"/>
<path d="M741.6 864 L754.6 864" fill="none" stroke="#000" stroke-width="1.5" stroke-linejoin="round" stroke-linecap="round"/>
<path d="M741.6 869 L754.6 869" fill="none" stroke="#000" stroke-width="1.5" stroke-linejoin="round" stroke-linecap="round"/>
<path d="M741.6 874 L754.6 874" fill="none" stroke="#000" stroke-width="1.5" stroke-linejoin="round" stroke-linecap="round"/>
<path d="M757.4 888.2 L757.4 878 Q762 873 766.2 878 L766.2 888.2" fill="#fff" stroke="#000" stroke-width="1.9" stroke-linejoin="round"/>
<path d="M739 889 Q750 893 766 888" fill="none" stroke="#000" stroke-width="1.5" stroke-linejoin="round" stroke-linecap="round"/>
<path d="M756.1 995 L768.4 995 L768.4 1029 Q762 1034 756.1 1029Z" fill="#fff" stroke="#000" stroke-width="1.9" stroke-linejoin="round"/>
<path d="M756.1 999 L768.4 999" fill="none" stroke="#000" stroke-width="1.2"/>
<path d="M756.1 1004 L768.4 1004" fill="none" stroke="#000" stroke-width="1.2"/>
<path d="M756.1 1009 L768.4 1009" fill="none" stroke="#000" stroke-width="1.2"/>
<path d="M756.1 1014 L768.4 1014" fill="none" stroke="#000" stroke-width="1.2"/>
<path d="M756.1 1019 L768.4 1019" fill="none" stroke="#000" stroke-width="1.2"/>
<path d="M756.1 1024 L768.4 1024" fill="none" stroke="#000" stroke-width="1.2"/>
<path d="M756.1 1029 L768.4 1029" fill="none" stroke="#000" stroke-width="1.2"/>
<path d="M731 845 Q730 838 745 836 Q756 835 757.4 838 Q757 846 745 848 Q732 849 731 845Z" fill="#fff" stroke="#000" stroke-width="1.9" stroke-linejoin="round"/>
<path d="M733 842 Q736 837 746 836.5 Q755 836 756 838 Q752 841 740 842.5Z" fill="#000" stroke="#000" stroke-width="1.5"/>
<path d="M295.6 847.3 L295.6 859.5 Q296.6 861.5 305.5 861.5 L314.4 861.5 Q315.4 859.5 315.4 847.3 Z" fill="#fff" stroke="#000" stroke-width="1.9" stroke-linejoin="round"/>
<path d="M298.1 851.5 L298.1 860.0 M312.9 851.5 L312.9 860.0" fill="none" stroke="#000" stroke-width="1.3"/>
<ellipse cx="305.5" cy="845.3" rx="12.5" ry="5.2" fill="#fff" stroke="#000" stroke-width="1.9" stroke-linejoin="round"/>
<ellipse cx="305.5" cy="845.9" rx="5.6" ry="2.3" fill="#000" stroke="#000" stroke-width="1"/>
<path d="M298.6 845.8 Q305.5 840.6 312.4 845.8" fill="none" stroke="#000" stroke-width="1.5" stroke-linejoin="round" stroke-linecap="round"/>
<path d="M750.6 1048.5 L750.6 1060.0 Q751.6 1062.0 760.0 1062.0 L768.4 1062.0 Q769.4 1060.0 769.4 1048.5 Z" fill="#fff" stroke="#000" stroke-width="1.9" stroke-linejoin="round"/>
<path d="M753.1 1053.0 L753.1 1060.5 M766.9 1053.0 L766.9 1060.5" fill="none" stroke="#000" stroke-width="1.3"/>
<ellipse cx="760.0" cy="1046.5" rx="12.8" ry="5.5" fill="#fff" stroke="#000" stroke-width="1.9" stroke-linejoin="round"/>
<ellipse cx="760.0" cy="1047.1" rx="5.8" ry="2.5" fill="#000" stroke="#000" stroke-width="1"/>
<path d="M753.0 1047.0 Q760.0 1041.5 767.0 1047.0" fill="none" stroke="#000" stroke-width="1.5" stroke-linejoin="round" stroke-linecap="round"/>
<path d="M701.5 526.5 L702 514 Q703 510.5 710 510.1 L718 510.5 Q720 512 720 517 Q724 519 723.6 522 Q723 525 716 526 Z" fill="#fff" stroke="#000" stroke-width="1.9" stroke-linejoin="round"/>
<path d="M702 520.5 L706 520.5 M711 513.5 L711 520 M715 521 Q718 519.5 721 520" fill="none" stroke="#000" stroke-width="1.5" stroke-linejoin="round" stroke-linecap="round"/>
<path d="M1321.5 613.0 L1321.5 621.9 Q1322.5 623.9 1329.5 623.9 L1336.5 623.9 Q1337.5 621.9 1337.5 613.0 Z" fill="#fff" stroke="#000" stroke-width="1.9" stroke-linejoin="round"/>
<path d="M1324.0 616.9 L1324.0 622.4 M1335.0 616.9 L1335.0 622.4" fill="none" stroke="#000" stroke-width="1.3"/>
<ellipse cx="1329.5" cy="611.0" rx="10.4" ry="4.9" fill="#fff" stroke="#000" stroke-width="1.9" stroke-linejoin="round"/>
<ellipse cx="1329.5" cy="611.6" rx="4.7" ry="2.2" fill="#000" stroke="#000" stroke-width="1"/>
<path d="M1323.8 611.5 Q1329.5 606.6 1335.2 611.5" fill="none" stroke="#000" stroke-width="1.5" stroke-linejoin="round" stroke-linecap="round"/>
<circle cx="557.8" cy="806.7" r="19.5" fill="#fff" stroke="#000" stroke-width="1.9" stroke-linejoin="round"/>
<circle cx="554" cy="810" r="8" fill="none" stroke="#000" stroke-width="1.5" stroke-linejoin="round" stroke-linecap="round"/>
<path d="M551 806 Q556 802 559 808 Q557 815 552 812" fill="none" stroke="#000" stroke-width="1.5" stroke-linejoin="round" stroke-linecap="round"/>
<path d="M545 792 Q550 789 557 790" fill="none" stroke="#000" stroke-width="1.5" stroke-linejoin="round" stroke-linecap="round"/>
<path d="M518.6 844.8 L537.6 830.8 Q541 830 542.4 837.2 L523.4 851.2Z" fill="#fff" stroke="#000" stroke-width="1.9" stroke-linejoin="round"/>
<path d="M527.9 837.6 L533.1 844.4" fill="none" stroke="#000" stroke-width="1.3"/>
<path d="M530.8 835.5 L536.0 842.3" fill="none" stroke="#000" stroke-width="1.3"/>
<path d="M533.6 833.4 L538.8 840.2" fill="none" stroke="#000" stroke-width="1.3"/>
<circle cx="515.1" cy="856.9" r="9" fill="#fff" stroke="#000" stroke-width="1.9" stroke-linejoin="round"/>
<path d="M511 853 L517 851 L520 857 L515 862" fill="none" stroke="#000" stroke-width="1.5" stroke-linejoin="round" stroke-linecap="round"/>
<path d="M797 638.5 L801.5 632 L817 644 L812.5 650.5Z" fill="#fff" stroke="#000" stroke-width="1.9" stroke-linejoin="round"/>
<path d="M803.0 635.5 l-4.5 6" fill="none" stroke="#000" stroke-width="1.2"/>
<path d="M806.2 638.0 l-4.5 6" fill="none" stroke="#000" stroke-width="1.2"/>
<path d="M809.4 640.5 l-4.5 6" fill="none" stroke="#000" stroke-width="1.2"/>
<path d="M812.6 643.0 l-4.5 6" fill="none" stroke="#000" stroke-width="1.2"/>
<circle cx="824.1" cy="650" r="9" fill="#fff" stroke="#000" stroke-width="1.9" stroke-linejoin="round"/>
<path d="M819 647 L825 645 L828 651 L823 655" fill="none" stroke="#000" stroke-width="1.5" stroke-linejoin="round" stroke-linecap="round"/>
<path d="M1386 566 Q1388 562 1391 565 L1406 582 L1401 587 L1385 570Z" fill="#fff" stroke="#000" stroke-width="1.9" stroke-linejoin="round"/>
<path d="M1389.0 566.0 l-5 4" fill="none" stroke="#000" stroke-width="1.3"/>
<path d="M1392.3 569.5 l-5 4" fill="none" stroke="#000" stroke-width="1.3"/>
<path d="M1395.6 573.0 l-5 4" fill="none" stroke="#000" stroke-width="1.3"/>
<path d="M1398.9 576.5 l-5 4" fill="none" stroke="#000" stroke-width="1.3"/>
<path d="M1402.2 580.0 l-5 4" fill="none" stroke="#000" stroke-width="1.3"/>
<path d="M1401 583 Q1401 577 1406 577 Q1410 575 1414 581 Q1416 586 1413 590 Q1412 596 1406 594 Q1400 593 1400 589Z" fill="#fff" stroke="#000" stroke-width="1.9" stroke-linejoin="round"/>
<path d="M1405 584 L1408 588" fill="none" stroke="#000" stroke-width="1.5" stroke-linejoin="round" stroke-linecap="round"/>
<path d="M1277.0 540.0 L1285.0 540.0 L1285.0 568.5 Q1281.0 571.5 1277.0 568.5 Z" fill="#fff" stroke="#000" stroke-width="1.9" stroke-linejoin="round"/>
<path d="M1277.0 543.0 L1285.0 543.0" fill="none" stroke="#000" stroke-width="1.6"/>
<path d="M1277.0 546.0 L1285.0 546.0" fill="none" stroke="#000" stroke-width="1.6"/>
<path d="M1277.0 549.0 L1285.0 549.0" fill="none" stroke="#000" stroke-width="1.6"/>
<path d="M1277.0 552.0 L1285.0 552.0" fill="none" stroke="#000" stroke-width="1.6"/>
<path d="M1277.0 555.0 L1285.0 555.0" fill="none" stroke="#000" stroke-width="1.6"/>
<path d="M1277.0 558.0 L1285.0 558.0" fill="none" stroke="#000" stroke-width="1.6"/>
<path d="M1277.0 561.0 L1285.0 561.0" fill="none" stroke="#000" stroke-width="1.6"/>
<path d="M1277.0 564.0 L1285.0 564.0" fill="none" stroke="#000" stroke-width="1.6"/>
<path d="M1277.0 567.0 L1285.0 567.0" fill="none" stroke="#000" stroke-width="1.6"/>
<path d="M1325.0 570.0 L1333.5 570.0 L1333.5 596.5 Q1329.2 599.5 1325.0 596.5 Z" fill="#fff" stroke="#000" stroke-width="1.9" stroke-linejoin="round"/>
<path d="M1325.0 573.0 L1333.5 573.0" fill="none" stroke="#000" stroke-width="1.6"/>
<path d="M1325.0 576.0 L1333.5 576.0" fill="none" stroke="#000" stroke-width="1.6"/>
<path d="M1325.0 579.0 L1333.5 579.0" fill="none" stroke="#000" stroke-width="1.6"/>
<path d="M1325.0 582.0 L1333.5 582.0" fill="none" stroke="#000" stroke-width="1.6"/>
<path d="M1325.0 585.0 L1333.5 585.0" fill="none" stroke="#000" stroke-width="1.6"/>
<path d="M1325.0 588.0 L1333.5 588.0" fill="none" stroke="#000" stroke-width="1.6"/>
<path d="M1325.0 591.0 L1333.5 591.0" fill="none" stroke="#000" stroke-width="1.6"/>
<path d="M1325.0 594.0 L1333.5 594.0" fill="none" stroke="#000" stroke-width="1.6"/>
<path d="M1366.0 560.0 L1374.5 560.0 L1374.5 585.0 Q1370.2 588.0 1366.0 585.0 Z" fill="#fff" stroke="#000" stroke-width="1.9" stroke-linejoin="round"/>
<path d="M1366.0 563.0 L1374.5 563.0" fill="none" stroke="#000" stroke-width="1.6"/>
<path d="M1366.0 566.0 L1374.5 566.0" fill="none" stroke="#000" stroke-width="1.6"/>
<path d="M1366.0 569.0 L1374.5 569.0" fill="none" stroke="#000" stroke-width="1.6"/>
<path d="M1366.0 572.0 L1374.5 572.0" fill="none" stroke="#000" stroke-width="1.6"/>
<path d="M1366.0 575.0 L1374.5 575.0" fill="none" stroke="#000" stroke-width="1.6"/>
<path d="M1366.0 578.0 L1374.5 578.0" fill="none" stroke="#000" stroke-width="1.6"/>
<path d="M1366.0 581.0 L1374.5 581.0" fill="none" stroke="#000" stroke-width="1.6"/>
<path d="M1266.4 516.4 L1267.3 514.6 L1272.7 513.7 L1318.2 527.3 L1339.2 538.3 L1384.7 527.3 L1384.7 541.9 L1388.3 546.4 L1387 551 L1375 556 L1360 562 L1332 570 L1316 565 L1315 561 L1278.2 539.2 L1269.1 525.5Z" fill="#fff" stroke="#000" stroke-width="1.9" stroke-linejoin="round"/>
<path d="M1271.8 523.7 L1279 537 L1316 557 L1339 553 L1386 541 M1339.2 538.3 L1339.2 555.5 M1316 561 Q1325 564 1332 562 L1386 548" fill="none" stroke="#000" stroke-width="1.5" stroke-linejoin="round" stroke-linecap="round"/>
<path d="M1272.7 501 L1278.2 497.3 L1286.4 496.4 L1300 506.4 L1332.8 498.2 L1339.2 495.5 L1360 505 L1364.6 512.8 L1381.9 521 L1384.7 527.3 L1339.2 538.3 L1320 524 L1286.4 507.3 L1272.7 513.7Z" fill="#fff" stroke="#000" stroke-width="1.9" stroke-linejoin="round"/>
<path d="M1272.7 501 L1272.7 513.7" fill="none" stroke="#000" stroke-width="1.3" stroke-dasharray="1.5 1"/>
<path d="M1328.2 529.2 L1370.1 516.4 M1331 533.7 L1382.8 523.7 M1294.6 514.6 L1294.6 525.5 M1296 517 L1315 526 L1316 536" fill="none" stroke="#000" stroke-width="1.5" stroke-linejoin="round" stroke-linecap="round"/>
<path d="M1283.7 476.4 Q1284 471 1288 471.8 L1295.5 471.8 L1300 473.6 Q1303 467.5 1310 467.3 Q1313 469 1312.8 471.8 L1316.4 487.3 L1318.2 491.8 L1323.7 490 L1330 490.9 L1332.8 494.6 L1300 506.4 L1294.6 511 L1290.9 507.3 L1285.5 487.3Z" fill="#fff" stroke="#000" stroke-width="1.9" stroke-linejoin="round"/>
<path d="M1286.4 478.2 L1292.8 505.5" fill="none" stroke="#000" stroke-width="1.5" stroke-linejoin="round" stroke-linecap="round"/>
<path d="M1320 521.9 L1331.9 499.1 L1341.9 496.4 L1347.4 494.6 L1353.7 490.9 Q1359 490 1359.2 494 L1358.3 499.1 L1363.7 504.6 L1365.5 509.1 L1364.6 512.3 L1325 525Z" fill="#fff" stroke="#000" stroke-width="1.9" stroke-linejoin="round"/>
<path d="M1324 521 L1334 502 L1353 493" fill="none" stroke="#000" stroke-width="1.5" stroke-linejoin="round" stroke-linecap="round"/>
<path d="M1293.8 475.7 A2.6 2.6 0 1 0 1293.8 479.7" fill="none" stroke="#000" stroke-width="1.5" stroke-linejoin="round" stroke-linecap="round"/>
<path d="M1309.3 471.6 A2.6 2.6 0 1 0 1309.3 475.6" fill="none" stroke="#000" stroke-width="1.5" stroke-linejoin="round" stroke-linecap="round"/>
<path d="M1340.3 502.6 A2.6 2.6 0 1 0 1340.3 506.6" fill="none" stroke="#000" stroke-width="1.5" stroke-linejoin="round" stroke-linecap="round"/>
<path d="M1356.0 496.0 A2.6 2.6 0 1 0 1356.0 500.0" fill="none" stroke="#000" stroke-width="1.5" stroke-linejoin="round" stroke-linecap="round"/>
<path d="M1302 511 l3 -3 M1308 512 l4 -4 M1314 514 l3 -4" fill="none" stroke="#000" stroke-width="1.5" stroke-linejoin="round" stroke-linecap="round"/>
<path d="M1311.3 393.3 C1312.4 396.6 1316.6 405.5 1317.8 412.9 C1319 420.3 1318.5 433.4 1318.7 437.5" fill="none" stroke="#000" stroke-width="1.8" stroke-linejoin="round" stroke-linecap="round"/>
<path d="M1318.7 437.5 L1335.9 429.3 L1360.4 413.8" fill="none" stroke="#000" stroke-width="1.8" stroke-linejoin="round" stroke-linecap="round"/>
<path d="M1352.2 420.3 L1352.2 449" fill="none" stroke="#000" stroke-width="1.3" stroke-dasharray="1.5 1"/>
<path d="M1368.6 407.2 L1368.6 433.4" fill="none" stroke="#000" stroke-width="1.3" stroke-dasharray="1.5 1"/>
<path d="M1379.3 399.8 L1379.3 417 L1367 433.4 L1375.2 447.3 L1372.7 455.5" fill="none" stroke="#000" stroke-width="1.8" stroke-linejoin="round" stroke-linecap="round"/>
<path d="M1379.3 417 L1399.7 416.2" fill="none" stroke="#000" stroke-width="1.8" stroke-linejoin="round" stroke-linecap="round"/>
<path d="M1314.6 441.6 C1314.2 443.4 1312 448.8 1312.1 452.2 C1312.2 455.6 1314.9 460.5 1315.4 462.1" fill="none" stroke="#000" stroke-width="1.65" stroke-dasharray="20 3" stroke-linejoin="round"/>
<path d="M1371.1 458 L1355.5 461.3" fill="none" stroke="#000" stroke-width="1.65" stroke-dasharray="20 3" stroke-linejoin="round"/>
<path d="M1320.3 471.9 L1335.9 464.5 L1351.4 462.1" fill="none" stroke="#000" stroke-width="1.8" stroke-linejoin="round" stroke-linecap="round"/>
<path d="M1352.3 452.2 A3 3 0 1 0 1352.3 457.2" fill="none" stroke="#000" stroke-width="1.5" stroke-linejoin="round" stroke-linecap="round"/>
<path d="M1368.7 450.6 A3 3 0 1 0 1368.7 455.6" fill="none" stroke="#000" stroke-width="1.5" stroke-linejoin="round" stroke-linecap="round"/>
<path d="M126.7 993.5 h16 M127.7 997 h14 M127.7 1001 h14 M127.7 997 v12 M141.7 997 v12 M127.7 1004.5 h14 M125.7 1007 h18 M134.7 992 v18" fill="none" stroke="#000" stroke-width="1.4"/>
<path d="M145.5 994.0 h18 M146.5 997.5 v13 M146.5 997.5 h16 v13 M151.5 994.5 v10 M157.5 994.5 v10 M148.5 1001.5 h12 M154.5 1001.5 v6" fill="none" stroke="#000" stroke-width="1.4"/>
<path d="M165 996 h18 M170 992 l2 3 M178 992 l-2 3 M167 998 v11 h6 v-11 h-6 M167 1001.5 h6 M167 1005 h6 M177 999 v10 M181 997 v13" fill="none" stroke="#000" stroke-width="1.4"/>
<path d="M192 992 l2 2 M184 996 h18 M190 1000 h9 v9 l-3 3 M190 997 q0 9 -7 13" fill="none" stroke="#000" stroke-width="1.4"/>
<path d="M401.9 304.3 L378 418" fill="none" stroke="#000" stroke-width="1.8" stroke-dasharray="9 5"/>
<path d="M468 396.9 L486.8 410.1" fill="none" stroke="#000" stroke-width="1.8" stroke-dasharray="9 5"/>
<path d="M489.6 413.9 L489.6 425" fill="none" stroke="#000" stroke-width="1.6"/>
<path d="M279 412.1 L340.3 416.8" fill="none" stroke="#000" stroke-width="1.8" stroke-dasharray="9 5"/>
<path d="M349 559 L334.5 640" fill="none" stroke="#000" stroke-width="1.8" stroke-dasharray="9 5"/>
<path d="M712.5 532.2 L719.5 619 L741.4 832" fill="none" stroke="#000" stroke-width="1.8" stroke-dasharray="9 5"/>
<path d="M571.7 789.1 L697 645" fill="none" stroke="#000" stroke-width="1.8" stroke-dasharray="9 5"/>
<path d="M754.7 612.3 L797.9 635" fill="none" stroke="#000" stroke-width="1.8" stroke-dasharray="9 5"/>
<g style="mix-blend-mode:multiply"><path d="M489 491.3 L526 491.3 L479.3 539.3 L610.3 539.3 L580 569.2 L478 569.2 Q472 569.2 468 565 L449 545 Q445 540 449 535 Z" fill="#c4c4c4"/><path d="M567 491.2 L627 491.2 L602 516 L542.6 516Z" fill="#c4c4c4"/><path d="M670.3 515.7 L670.3 553.5 L616 612.8 L572.5 612.8Z" fill="#c4c4c4"/><path d="M736 468.2 L778.5 468.2 L726.6 515.7 L726.6 540.3 L818 540.3 L794 566 Q790 570.2 784 570.2 L709 570.2 Q695.8 570.2 695.8 557 L695.8 517 Q695.8 512 700 508 Z" fill="#c4c4c4"/><path d="M886.3 483 L932 483 Q936 483 940 487 L962 509 L962 556.6 L907 612.5 L864.6 612.5 L907 570 L866 570 Q861.5 570 858 566 L840 546 Q836 542 840 538 Z M902.9 515.1 L961 515.1 L938.2 540 L876 540 Z" fill="#c4c4c4" fill-rule="evenodd"/><path d="M1027.3 468.5 L1070.8 468.5 L1018 521.3 L1018 539 L1111.3 539 L1087 566 Q1083 570.3 1077 570.3 L1000 570.3 Q986.9 570.3 986.9 557 L986.9 513 Q986.9 508 991 504 Z" fill="#c4c4c4"/><path d="M1083.3 491.3 L1144.4 491.3 L1119.5 516.2 L1060.5 516.2Z" fill="#c4c4c4"/><path d="M722 581.3 L772.3 581.3 L752.5 602.7 L701.9 602.7Z" fill="#c4c4c4"/><path d="M726.7 611.3 L750.8 611.3 L732.8 629.4 L710.1 629.4Z" fill="#c4c4c4"/></g>
</svg></body></html>
